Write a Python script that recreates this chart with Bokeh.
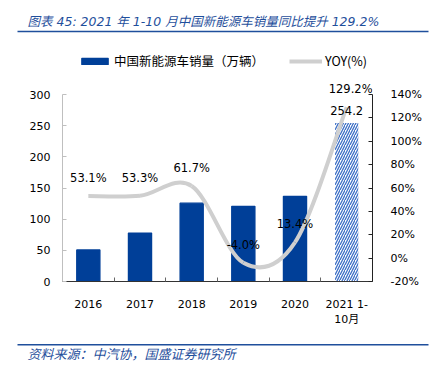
import numpy as np
from bokeh.plotting import figure
from bokeh.layouts import column
from bokeh.models import (Range1d, LinearAxis, FixedTicker, PrintfTickFormatter, ColumnDataSource,
                          LabelSet, Label, Legend, LegendItem, BoxAnnotation)
from bokeh.core.properties import value
from bokeh.embed import file_html
from bokeh.resources import INLINE

# ---- data ----
categories = ["2016", "2017", "2018", "2019", "2020", "2021 1-\n10月"]
sales = [50.7, 77.7, 125.6, 120.6, 136.7, 254.2]          # 万辆
yoy = [53.1, 53.3, 61.7, -4.0, 13.4, 129.2]               # %
yoy_text = ["53.1%", "53.3%", "61.7%", "-4.0%", "13.4%", "129.2%"]
sales_text = ["", "", "", "", "", "254.2"]
left_ticks = [0, 50, 100, 150, 200, 250, 300]
right_ticks = [-20, 0, 20, 40, 60, 80, 100, 120, 140]

title_text = "图表 45: 2021 年 1-10 月中国新能源车销量同比提升 129.2%"
source_text = "资料来源：中汽协，国盛证券研究所"
bar_name = "中国新能源车销量（万辆）"
line_name = "YOY(%)"

# ---- styles / geometry ----
BLUE = "#003f98"
HATCH = "#3d6fc6"
GRAY = "#cfcfcf"
HEAD = "#1f4f9c"
NUM_FONT = "'DejaVu Sans', 'Noto Sans CJK SC'"
CJK_FONT = "'Noto Sans CJK SC'"

W = 442
HEAD_H, MAIN_H, FOOT_H = 40, 290, 37
AXIS_TOP_PX = 50      # px between frame top and the top tick (room for legend/labels)
AXIS_SPAN_PX = 187    # px from first to last tick

n = len(categories)
xpos = np.arange(n) + 0.5

def blank(h):
    f = figure(width=W, height=h, output_backend="svg", toolbar_location=None,
               x_range=Range1d(0, W), y_range=Range1d(h, 0),
               x_axis_location=None, y_axis_location=None, min_border=0,
               background_fill_color="white", border_fill_color="white")
    f.outline_line_color = None
    f.grid.visible = False
    try:
        f.frame_align = False
    except Exception:
        pass
    return f

# ---------------- main chart ----------------
l0, l1 = left_ticks[0], left_ticks[-1]
r0, r1 = right_ticks[0], right_ticks[-1]
l_end = l1 + (l1 - l0) * AXIS_TOP_PX / AXIS_SPAN_PX
r_end = r1 + (r1 - r0) * AXIS_TOP_PX / AXIS_SPAN_PX

p = figure(width=W, height=MAIN_H, output_backend="svg", toolbar_location=None,
           x_range=Range1d(0, n), y_range=Range1d(l0, l_end),
           min_border_left=62, min_border_right=70, min_border_top=4, min_border_bottom=49,
           background_fill_color="white", border_fill_color="white")
p.outline_line_color = None
p.grid.visible = False
p.extra_y_ranges = {"yoy": Range1d(r0, r_end)}

fills = [BLUE] * (n - 1) + ["white"]
hatches = [" "] * (n - 1) + ["/"]
lines = [BLUE] * (n - 1) + [None]
src = ColumnDataSource(dict(x=xpos, top=sales, fill=fills, hatch=hatches, lc=lines,
                            stext=sales_text))
bars = p.vbar(x="x", top="top", width=0.45, source=src, fill_color="fill", line_color="lc",
              line_width=1.2, hatch_pattern="hatch", hatch_color=HATCH, hatch_scale=5,
              hatch_weight=1.3)

# smooth yoy line (Catmull-Rom style bezier segments through the data points)
xs = list(xpos)
ys = list(yoy)
x0, y0, x1, y1, cx0, cy0, cx1, cy1 = [], [], [], [], [], [], [], []
for i in range(n - 1):
    xa, xb = xs[max(i - 1, 0)], xs[min(i + 2, n - 1)]
    ya, yb = ys[max(i - 1, 0)], ys[min(i + 2, n - 1)]
    x0.append(xs[i]); y0.append(ys[i]); x1.append(xs[i + 1]); y1.append(ys[i + 1])
    cx0.append(xs[i] + (xs[i + 1] - xa) / 6.0); cy0.append(ys[i] + (ys[i + 1] - ya) / 6.0)
    cx1.append(xs[i + 1] - (xb - xs[i]) / 6.0); cy1.append(ys[i + 1] - (yb - ys[i]) / 6.0)
curve = p.bezier(x0=x0, y0=y0, x1=x1, y1=y1, cx0=cx0, cy0=cy0, cx1=cx1, cy1=cy1,
                 line_color=GRAY, line_width=4, y_range_name="yoy")

p.yaxis.ticker = FixedTicker(ticks=left_ticks)
p.yaxis.bounds = (l0, l1)
p.yaxis.axis_line_color = "#bfbfbf"
p.yaxis.major_tick_line_color = "#bfbfbf"
p.yaxis.major_tick_in = 4
p.yaxis.major_tick_out = 0
p.yaxis.minor_tick_line_color = None
p.yaxis.major_label_standoff = 12
p.yaxis.major_label_text_font = NUM_FONT
p.yaxis.major_label_text_font_size = "11px"
p.yaxis.major_label_text_color = "black"

ry = LinearAxis(y_range_name="yoy", ticker=FixedTicker(ticks=right_ticks), bounds=(r0, r1),
                formatter=PrintfTickFormatter(format="%d%%"))
ry.axis_line_color = "#222222"
ry.major_tick_line_color = "#222222"
ry.major_tick_in = 4
ry.major_tick_out = 0
ry.minor_tick_line_color = None
ry.major_label_standoff = 18
ry.major_label_text_font = NUM_FONT
ry.major_label_text_font_size = "11px"
ry.major_label_text_color = "black"
p.add_layout(ry, "right")

xa_ = p.xaxis[0]
xa_.ticker = FixedTicker(ticks=list(xpos), minor_ticks=list(range(n + 1)))
xa_.major_label_overrides = {float(x): c for x, c in zip(xpos, categories)}
xa_.axis_line_color = "#333333"
xa_.major_tick_line_color = None
xa_.minor_tick_line_color = "#666666"
xa_.minor_tick_in = 4
xa_.minor_tick_out = 0
xa_.major_label_standoff = 10
xa_.major_label_text_font = NUM_FONT
xa_.major_label_text_font_size = "11px"
xa_.major_label_text_color = "black"

lsrc = ColumnDataSource(dict(x=xpos, y=yoy, t=yoy_text, xo=[0, 0, 0, 0, 0, 4]))
p.add_layout(LabelSet(x="x", y="y", text="t", source=lsrc, y_range_name="yoy",
                      x_offset="xo", y_offset=18, text_align="center", text_baseline="middle",
                      text_font=value(NUM_FONT), text_font_size="11.5px", text_color="black"))
p.add_layout(LabelSet(x="x", y="top", text="stext", source=src, y_offset=13,
                      text_align="center", text_baseline="middle",
                      text_font=value(NUM_FONT), text_font_size="11.5px", text_color="black"))

legend = Legend(items=[LegendItem(label=bar_name, renderers=[bars], index=0),
                       LegendItem(label=line_name, renderers=[curve])],
                orientation="horizontal", location=(16, 211), padding=0, margin=0,
                spacing=25, label_standoff=3, glyph_width=33, glyph_height=8,
                label_height=14, border_line_color=None, background_fill_alpha=0,
                label_text_font=CJK_FONT, label_text_font_size="12.5px",
                label_text_color="black")
p.add_layout(legend, "center")

# ---------------- header: title and rule ----------------
hdr = blank(HEAD_H)
hdr.add_layout(Label(x=27, y=20.7, text=title_text, text_font=NUM_FONT,
                     text_font_size="12.5px", text_font_style="italic",
                     text_color=HEAD, text_baseline="middle"))
hdr.add_layout(BoxAnnotation(left=17, right=428, top=30.3, bottom=31.8,
                             fill_color=HEAD, fill_alpha=1, line_color=None))

# ---------------- footer: rule and source ----------------
ftr = blank(FOOT_H)
ftr.add_layout(BoxAnnotation(left=17, right=428, top=13.6, bottom=15.1,
                             fill_color=HEAD, fill_alpha=1, line_color=None))
ftr.add_layout(Label(x=27, y=23, text=source_text, text_font=CJK_FONT,
                     text_font_size="13px", text_font_style="italic",
                     text_color=HEAD, text_baseline="middle"))

layout = column(hdr, p, ftr, spacing=0)
open("out.html", "w").write(file_html(layout, INLINE))
